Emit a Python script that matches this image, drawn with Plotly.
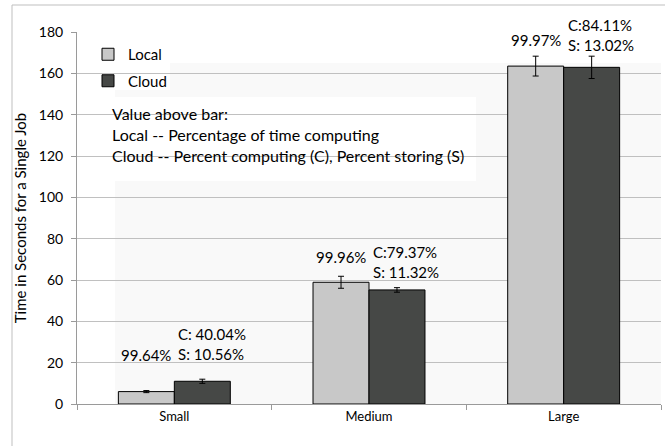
import plotly.graph_objects as go

categories = ["Small", "Medium", "Large"]
local_times = [6.0, 58.9, 163.5]
local_err = [0.5, 2.9, 4.8]
cloud_times = [11.0, 55.2, 162.9]
cloud_err = [1.0, 1.1, 5.4]
local_labels = ["99.64%", "99.96%", "99.97%"]
cloud_labels = ["C: 40.04%<br>S: 10.56%", "C:79.37%<br>S: 11.32%", "C:84.11%<br>S: 13.02%"]
local_label_y = [23.7, 71.1, 176.1]
cloud_label_y = [28.8, 68.7, 178.6]

FONT = "Lato"
W, H = 665, 446
L, R, T, B = 77, 4, 32, 42
pw, ph = W - L - R, H - T - B

def px_x(x):
    return (x - L) / pw

def px_y(y):
    return (H - B - y) / ph

fig = go.Figure()
fig.add_trace(go.Bar(
    name="Local", x=categories, y=local_times, legendgroup="local",
    marker=dict(color="#c8c8c8", line=dict(color="#000000", width=1)),
    error_y=dict(type="data", array=local_err, color="#000000", thickness=1, width=3),
))
fig.add_trace(go.Bar(
    name="Cloud", x=categories, y=cloud_times, legendgroup="cloud",
    marker=dict(color="#464846", line=dict(color="#000000", width=1)),
    error_y=dict(type="data", array=cloud_err, color="#000000", thickness=1, width=3),
))

bargap = 0.425
half = (1 - bargap) / 4
annotations = []
for i, cat in enumerate(categories):
    annotations.append(dict(
        x=i - half, y=local_label_y[i], xref="x", yref="y",
        text=local_labels[i], showarrow=False, xanchor="center", yanchor="middle",
        font=dict(family=FONT, size=15, color="#000"),
    ))
    annotations.append(dict(
        x=i + 0.01, y=cloud_label_y[i], xref="x", yref="y",
        text=cloud_labels[i], showarrow=False, xanchor="left", yanchor="middle", align="left",
        font=dict(family=FONT, size=15, color="#000"),
    ))

annotations.append(dict(
    x=px_x(110), y=px_y(102), xref="paper", yref="paper",
    text="Value above bar:<br>Local -- Percentage of time computing<br>Cloud -- Percent computing (C), Percent storing (S)",
    showarrow=False, xanchor="left", yanchor="top", align="left",
    font=dict(family=FONT, size=16, color="#000"),
))

shapes = [
    dict(type="rect", xref="paper", yref="paper", x0=px_x(115), x1=1, y0=0, y1=px_y(63),
         fillcolor="#f9f9f9", line=dict(width=0), layer="below"),
    dict(type="rect", xref="paper", yref="paper", x0=px_x(101), x1=px_x(170), y0=px_y(90), y1=px_y(38),
         fillcolor="#ffffff", line=dict(width=0), layer="between"),
    dict(type="rect", xref="paper", yref="paper", x0=px_x(107), x1=px_x(476), y0=px_y(181), y1=px_y(97),
         fillcolor="#ffffff", line=dict(width=0), layer="between"),
    dict(type="rect", xref="paper", yref="paper", x0=px_x(12), x1=px_x(700), y0=px_y(460), y1=px_y(5),
         fillcolor="rgba(0,0,0,0)", line=dict(color="#bfbfbf", width=1), layer="below"),
]

fig.update_layout(
    width=W, height=H,
    margin=dict(l=L, r=R, t=T, b=B),
    paper_bgcolor="#ffffff", plot_bgcolor="#ffffff",
    barmode="group", bargap=bargap, bargroupgap=0,
    font=dict(family=FONT, size=13, color="#000"),
    legend=dict(
        x=px_x(88), y=px_y(38), xanchor="left", yanchor="top",
        bgcolor="rgba(0,0,0,0)", font=dict(family=FONT, size=15),
        itemwidth=30, tracegroupgap=4,
    ),
    annotations=annotations,
    shapes=shapes,
    xaxis=dict(
        type="category", showline=True, linecolor="#9a9a9a", linewidth=1,
        ticks="outside", tickson="boundaries", ticklen=5, tickcolor="#9a9a9a",
        showgrid=False, tickfont=dict(family=FONT, size=13),
    ),
    yaxis=dict(
        range=[0, 180], dtick=20, showline=True, linecolor="#9a9a9a", linewidth=1,
        ticks="outside", ticklen=5, tickcolor="#9a9a9a", ticklabelstandoff=5,
        gridcolor="#c0c0c0", gridwidth=1, zeroline=False,
        tickfont=dict(family=FONT, size=14),
        title=dict(text="Time in Seconds for a Single Job", font=dict(family=FONT, size=15), standoff=8),
    ),
)

fig.write_html("out.html", config={"displayModeBar": False},
               post_script="document.body.style.margin='0';")
